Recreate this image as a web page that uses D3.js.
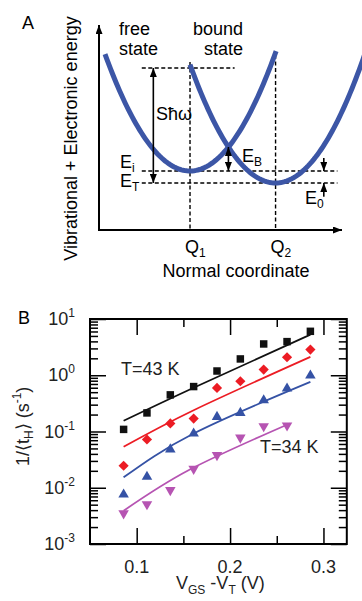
<!DOCTYPE html>
<html>
<head>
<meta charset="utf-8">
<script src="https://cdn.jsdelivr.net/npm/d3@7"></script>
<style>
  body { margin: 0; background: #fff; }
  svg { display: block; font-family: "Liberation Sans", Arial, sans-serif; }
</style>
</head>
<body>
<svg id="fig" width="362" height="601"></svg>
<script>
// ---- Panel A: configuration-coordinate sketch ----
const qLabels = ["Q", "Q"];
const qSubs = ["1", "2"];
const qPositions = [1.0, 1.94];          // Q1, Q2 (normal coordinate)
const wellMinima = [5.9, 4.7];           // E_i, E_T
const wellRanges = [[0.066, 1.956], [1.0, 2.92]];
const wellCurvature = 13.4;
const relaxTop = 16.2;                   // E_T + S hbar omega
const qDashTop = [16.8, 17.5];

// ---- Panel B: capture rates ----
const vgs = [0.086, 0.111, 0.136, 0.161, 0.186, 0.211, 0.236, 0.261, 0.286];
const rateT43 = [0.109, 0.214, 0.448, 0.629, 1.19, 1.95, 3.6, 3.96, 6.04];
const rateRed = [0.0246, 0.072, 0.139, 0.170, 0.596, 0.782, 1.26, 2.09, 2.86];
const rateBlue = [0.0076, 0.0157, 0.048, 0.092, 0.182, 0.214, 0.36, 0.58, 0.99];
const rateT34 = [0.0035, 0.0051, 0.0091, 0.0217, 0.038, 0.078, 0.124, 0.128];

// fitted curves (start, middle, end)
const fitX = [0.086, 0.161, 0.286];
const fitT43 = [0.155, 0.60, 5.27];
const fitRed = [0.0534, 0.239, 2.12];
const fitBlue = [0.0153, 0.092, 0.76];
const fitT34X = [0.086, 0.157, 0.264];
const fitT34 = [0.0039, 0.0211, 0.139];

const xTicks = [0.1, 0.2, 0.3];
const xMinorTicks = [0.15, 0.25];
const yDecades = [1e-3, 1e-2, 1e-1, 1e0, 1e1];
const yDecadeExp = ["-3", "-2", "-1", "0", "1"];

const svg = d3.select("#fig");
const curveBlue = "#3c56a6";

// arrowhead marker
const defs = svg.append("defs");
defs.append("marker")
    .attr("id", "ah")
    .attr("viewBox", "0 0 9 7")
    .attr("refX", 9).attr("refY", 3.5)
    .attr("markerWidth", 9).attr("markerHeight", 7)
    .attr("markerUnits", "userSpaceOnUse")
    .attr("orient", "auto-start-reverse")
    .append("path").attr("d", "M0,0L9,3.5L0,7Z").attr("fill", "#000");

// ================= Panel A =================
const xA = d3.scaleLinear().domain([0, 2.67]).range([99, 342]);
const yA = d3.scaleLinear().domain([0, 20.5]).range([230, 25]);
const gA = svg.append("g");

gA.append("text").attr("x", 22).attr("y", 29).attr("font-size", 18).text("A");

// axes with arrows
gA.append("line")
    .attr("x1", xA(0)).attr("y1", yA(0)).attr("x2", xA(0)).attr("y2", yA(20.5))
    .attr("stroke", "#000").attr("stroke-width", 2).attr("marker-end", "url(#ah)");
gA.append("line")
    .attr("x1", xA(0) - 1).attr("y1", yA(0)).attr("x2", xA(2.67)).attr("y2", yA(0))
    .attr("stroke", "#000").attr("stroke-width", 2).attr("marker-end", "url(#ah)");

// dashed guide lines
const dash = (x1, y1, x2, y2) => gA.append("line")
    .attr("x1", x1).attr("y1", y1).attr("x2", x2).attr("y2", y2)
    .attr("stroke", "#000").attr("stroke-width", 1.4).attr("stroke-dasharray", "4,2.5");

dash(xA(0.47), yA(relaxTop), xA(1.49), yA(relaxTop));
dash(xA(0.47), yA(wellMinima[0]), xA(2.62), yA(wellMinima[0]));
dash(xA(0.47), yA(wellMinima[1]), xA(2.62), yA(wellMinima[1]));
qPositions.forEach((q, i) => dash(xA(q), yA(qDashTop[i]), xA(q), yA(0)));

// potential wells
const well = d3.line().x(d => xA(d[0])).y(d => yA(d[1]));
qPositions.forEach((q, i) => {
    const [a, b] = wellRanges[i];
    const pts = d3.range(a, b + 0.001, 0.02).map(v => [v, wellMinima[i] + wellCurvature * (v - q) * (v - q)]);
    gA.append("path")
        .attr("d", well(pts))
        .attr("fill", "none")
        .attr("stroke", curveBlue)
        .attr("stroke-width", 5);
});

// arrows
const arrow = (x1, y1, x2, y2, both) => {
    const l = gA.append("line")
        .attr("x1", x1).attr("y1", y1).attr("x2", x2).attr("y2", y2)
        .attr("stroke", "#000").attr("stroke-width", 1.6)
        .attr("marker-end", "url(#ah)");
    if (both) l.attr("marker-start", "url(#ah)");
};
arrow(xA(0.597), yA(relaxTop), xA(0.597), yA(wellMinima[1]), true);
arrow(xA(1.422), yA(8.3), xA(1.422), yA(wellMinima[0]), true);
arrow(xA(2.47), yA(7.2), xA(2.47), yA(wellMinima[0]), false);
arrow(xA(2.47), yA(3.33), xA(2.47), yA(wellMinima[1]), false);

// labels
const txt = (g, x, y, s, size = 18) => g.append("text").attr("x", x).attr("y", y).attr("font-size", size).text(s);
const subTxt = (g, x, y, main, sub) => {
    const t = g.append("text").attr("x", x).attr("y", y).attr("font-size", 18);
    t.append("tspan").text(main);
    t.append("tspan").attr("font-size", 12).attr("dy", 4).text(sub);
    return t;
};
txt(gA, 119, 35, "free");
txt(gA, 119, 55, "state");
txt(gA, 243, 35, "bound").attr("text-anchor", "end");
txt(gA, 243, 55, "state").attr("text-anchor", "end");
txt(gA, 156, 120, "S\u0127\u03c9");
subTxt(gA, 120, 168, "E", "i");
subTxt(gA, 120, 187, "E", "T");
subTxt(gA, 242, 161.5, "E", "B");
subTxt(gA, 305, 204, "E", "0");
qPositions.forEach((q, i) => subTxt(gA, xA(q) - 5, 253, qLabels[i], qSubs[i]));
txt(gA, 236, 277, "Normal coordinate").attr("text-anchor", "middle");
gA.append("text")
    .attr("transform", "translate(77,138.5) rotate(-90)")
    .attr("text-anchor", "middle")
    .attr("font-size", 18)
    .text("Vibrational + Electronic energy");

// ================= Panel B =================
const x = d3.scaleLinear().domain([0.05, 0.325]).range([90, 346.8]);
const y = d3.scaleLog().domain([1e-3, 1e1]).range([544, 319]);
const gB = svg.append("g");

txt(gB, 18, 324, "B");

const yMinor = [];
yDecades.slice(0, -1).forEach(d => d3.range(2, 10).forEach(k => yMinor.push(d * k)));

const styleAxis = g => {
    g.select(".domain").remove();
    g.selectAll(".tick line").attr("stroke", "#000").attr("stroke-width", 1.5);
    g.selectAll("text").remove();
};

// ticks on all four sides, pointing inward
gB.append("g").attr("transform", `translate(${x.range()[0]},0)`)
    .call(d3.axisLeft(y).tickValues(yDecades).tickSize(-16)).call(styleAxis);
gB.append("g").attr("transform", `translate(${x.range()[0]},0)`)
    .call(d3.axisLeft(y).tickValues(yMinor).tickSize(-8)).call(styleAxis);
gB.append("g").attr("transform", `translate(${x.range()[1]},0)`)
    .call(d3.axisRight(y).tickValues(yDecades).tickSize(-16)).call(styleAxis);
gB.append("g").attr("transform", `translate(${x.range()[1]},0)`)
    .call(d3.axisRight(y).tickValues(yMinor).tickSize(-8)).call(styleAxis);
gB.append("g").attr("transform", `translate(0,${y.range()[0]})`)
    .call(d3.axisBottom(x).tickValues(xTicks).tickSize(-16)).call(styleAxis);
gB.append("g").attr("transform", `translate(0,${y.range()[0]})`)
    .call(d3.axisBottom(x).tickValues(xMinorTicks).tickSize(-8)).call(styleAxis);
gB.append("g").attr("transform", `translate(0,${y.range()[1]})`)
    .call(d3.axisTop(x).tickValues(xTicks).tickSize(-16)).call(styleAxis);
gB.append("g").attr("transform", `translate(0,${y.range()[1]})`)
    .call(d3.axisTop(x).tickValues(xMinorTicks).tickSize(-8)).call(styleAxis);

gB.append("rect")
    .attr("x", x.range()[0]).attr("y", y.range()[1])
    .attr("width", x.range()[1] - x.range()[0])
    .attr("height", y.range()[0] - y.range()[1])
    .attr("fill", "none").attr("stroke", "#000").attr("stroke-width", 2);

// tick labels
yDecades.forEach((d, i) => {
    const t = gB.append("text")
        .attr("x", 75).attr("y", y(d) + 6)
        .attr("text-anchor", "end").attr("font-size", 18).attr("fill", "#222");
    t.append("tspan").text("10");
    t.append("tspan").attr("font-size", 12).attr("dy", -8).text(yDecadeExp[i]);
});
xTicks.forEach(v => {
    gB.append("text")
        .attr("x", x(v)).attr("y", 573)
        .attr("text-anchor", "middle").attr("font-size", 18).attr("fill", "#222")
        .text(v.toFixed(1));
});

// axis titles
const yt = gB.append("text")
    .attr("transform", "translate(29,466) rotate(-90)")
    .attr("font-size", 18).attr("fill", "#222");
yt.append("tspan").text("1/\u27e8t");
yt.append("tspan").attr("font-size", 12).attr("dy", 4).text("H");
yt.append("tspan").attr("dy", -4).text("\u27e9\u00a0(s");
yt.append("tspan").attr("font-size", 12).attr("dy", -8).text("-1");
yt.append("tspan").attr("dy", 8).text(")");

const xt = gB.append("text")
    .attr("x", 176).attr("y", 589)
    .attr("font-size", 18).attr("fill", "#222");
xt.append("tspan").text("V");
xt.append("tspan").attr("font-size", 12).attr("dy", 5).text("GS");
xt.append("tspan").attr("dy", -5).text("\u00a0-V");
xt.append("tspan").attr("font-size", 12).attr("dy", 5).text("T");
xt.append("tspan").attr("dy", -5).text("\u00a0(V)");

// series
const series = [
    { vals: rateT43, fx: fitX, fy: fitT43, color: "#111111", symbol: d3.symbolSquare, size: 56, rot: 0 },
    { vals: rateRed, fx: fitX, fy: fitRed, color: "#ec1c24", symbol: d3.symbolSquare, size: 52, rot: 45 },
    { vals: rateBlue, fx: fitX, fy: fitBlue, color: "#3552a5", symbol: d3.symbolTriangle, size: 48, rot: 0 },
    { vals: rateT34, fx: fitT34X, fy: fitT34, color: "#b654b2", symbol: d3.symbolTriangle, size: 48, rot: 180 }
];

const fitLine = d3.line()
    .x(d => x(d[0]))
    .y(d => y(d[1]))
    .curve(d3.curveNatural);

series.forEach(s => {
    gB.append("path")
        .datum(s.fx.map((v, i) => [v, s.fy[i]]))
        .attr("fill", "none")
        .attr("stroke", s.color)
        .attr("stroke-width", 1.8)
        .attr("d", fitLine);

    gB.selectAll(null)
        .data(s.vals.map((v, i) => [vgs[i], v]))
        .enter()
        .append("path")
        .attr("transform", d => `translate(${x(d[0])},${y(d[1])}) rotate(${s.rot})`)
        .attr("d", d3.symbol().type(s.symbol).size(s.size))
        .attr("fill", s.color);
});

txt(gB, 121, 375, "T=43 K").attr("fill", "#222");
txt(gB, 260, 453, "T=34 K").attr("fill", "#222");
</script>
</body>
</html>
